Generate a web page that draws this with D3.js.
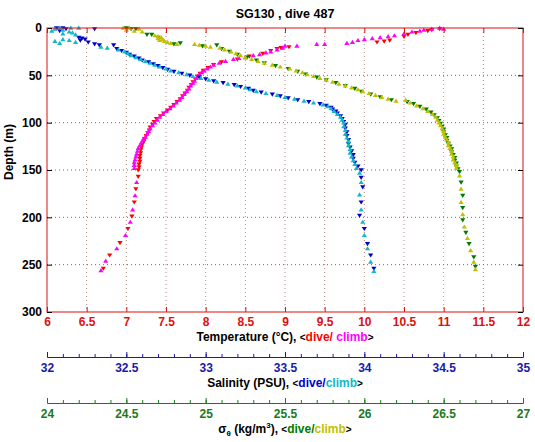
<!DOCTYPE html>
<html>
<head>
<meta charset="utf-8">
<script src="https://cdn.jsdelivr.net/npm/d3@7"></script>
<style>
  html, body { margin: 0; padding: 0; background: #fff; }
  svg text { font-family: "Liberation Sans", Arial, Helvetica, sans-serif; font-weight: bold; }
</style>
</head>
<body>
<svg id="chart" width="535" height="442"></svg>
<script>
// ---------------- data: [depth (m), value] ----------------
const tempDive = [[1,10.95],[2,10.85],[3,10.8],[5,10.65],[7,10.55],[9,10.5],[13,10.32],[14,10.25],[15,10.16],[20,9.05],[21,8.95],[22,8.9],[24,8.82],[27,8.72],[30,8.55],[33,8.4],[36,8.2],[39,8.1],[42,8.03],[45,7.97],[48,7.93],[51,7.9],[54,7.87],[57,7.84],[60,7.82],[63,7.79],[66,7.77],[69,7.74],[72,7.71],[75,7.68],[78,7.64],[81,7.6],[84,7.56],[87,7.52],[90,7.47],[93,7.43],[96,7.38],[99,7.35],[102,7.33],[105,7.3],[108,7.29],[111,7.27],[114,7.25],[117,7.23],[120,7.22],[123,7.2],[126,7.19],[129,7.18],[132,7.18],[135,7.17],[138,7.17],[141,7.17],[144,7.16],[147,7.16],[150,7.15],[157,7.15],[170,7.12],[184,7.1],[199,7.07],[212,7.02],[227,6.92],[240,6.79],[254,6.71]];
const tempClimb = [[0,10.95],[1,11.0],[1,10.85],[2,10.75],[3,10.7],[4,10.6],[6,10.5],[8,10.38],[9,10.3],[10,10.2],[11,10.1],[12,10.0],[13,9.92],[15,9.85],[16,9.78],[17,9.5],[17,9.4],[19,9.15],[19,9.0],[21,8.97],[23,8.9],[25,8.82],[26,8.76],[28,8.68],[29,8.6],[31,8.5],[32,8.42],[33,8.35],[35,8.25],[37,8.17],[39,8.1],[41,8.06],[43,8.02],[45,7.98],[47,7.95],[49,7.92],[51,7.9],[53,7.88],[56,7.86],[58,7.84],[61,7.81],[64,7.79],[67,7.76],[70,7.73],[73,7.7],[76,7.67],[79,7.63],[82,7.59],[85,7.55],[88,7.5],[91,7.46],[94,7.42],[97,7.39],[100,7.36],[103,7.33],[106,7.3],[109,7.28],[112,7.26],[115,7.24],[118,7.21],[121,7.19],[124,7.17],[127,7.15],[130,7.14],[133,7.13],[136,7.12],[139,7.11],[142,7.1],[145,7.1],[148,7.1],[163,7.13],[177,7.11],[192,7.08],[205,7.05],[219,6.99],[233,6.88],[246,6.74],[256,6.68]];
const salDive = [[0,32.1],[0,32.06],[1,32.12],[1,32.3],[3,32.08],[10,32.2],[11,32.22],[12,32.24],[13,32.21],[15,32.26],[17,32.3],[18,32.33],[18,32.42],[22,32.44],[24,32.47],[26,32.5],[28,32.52],[30,32.55],[32,32.58],[34,32.6],[36,32.64],[38,32.67],[40,32.7],[42,32.73],[44,32.76],[46,32.8],[48,32.85],[50,32.9],[52,32.96],[54,33.0],[56,33.05],[58,33.11],[60,33.18],[62,33.22],[64,33.27],[66,33.3],[68,33.35],[70,33.42],[72,33.47],[74,33.52],[76,33.58],[78,33.65],[80,33.72],[82,33.76],[84,33.79],[86,33.8],[88,33.82],[90,33.83],[93,33.85],[96,33.86],[99,33.87],[102,33.88],[106,33.88],[110,33.89],[114,33.89],[118,33.9],[122,33.9],[126,33.91],[130,33.92],[134,33.93],[138,33.93],[142,33.94],[146,33.96],[150,33.98],[158,33.98],[168,33.99],[184,33.98],[198,33.97],[212,34.0],[228,34.02],[240,34.04],[254,34.06]];
const salClimb = [[0,32.08],[0,32.15],[0,32.2],[1,32.05],[2,32.1],[3,32.03],[4,32.14],[5,32.16],[6,32.1],[7,32.18],[12,32.1],[13,32.14],[14,32.05],[15,32.18],[16,32.08],[20,32.34],[21,32.38],[23,32.45],[25,32.49],[27,32.51],[29,32.53],[31,32.56],[33,32.59],[35,32.62],[37,32.65],[39,32.68],[41,32.71],[43,32.75],[45,32.78],[47,32.83],[49,32.88],[51,32.92],[53,32.97],[55,33.02],[57,33.07],[59,33.14],[61,33.2],[63,33.25],[65,33.28],[67,33.32],[69,33.38],[71,33.45],[73,33.5],[75,33.56],[77,33.62],[79,33.68],[81,33.74],[83,33.77],[85,33.79],[88,33.81],[91,33.83],[94,33.85],[97,33.86],[100,33.87],[104,33.87],[108,33.88],[112,33.88],[116,33.89],[120,33.9],[124,33.9],[128,33.91],[132,33.91],[136,33.92],[140,33.93],[144,33.94],[148,33.95],[153,33.97],[163,33.98],[176,33.97],[192,33.98],[205,33.99],[219,34.0],[233,34.02],[247,34.04],[257,34.06]];
const sigDive = [[0,24.5],[1,24.53],[1,24.56],[7,24.63],[7,24.66],[10,24.7],[16,24.84],[17,24.8],[18,25.07],[19,24.98],[22,25.1],[25,25.15],[28,25.2],[31,25.26],[34,25.32],[37,25.37],[40,25.44],[43,25.52],[46,25.58],[49,25.63],[52,25.7],[55,25.76],[58,25.82],[61,25.88],[64,25.94],[67,25.98],[70,26.04],[73,26.1],[76,26.17],[78,26.27],[80,26.31],[83,26.35],[86,26.39],[89,26.42],[92,26.44],[95,26.46],[98,26.47],[101,26.48],[104,26.49],[107,26.5],[110,26.5],[113,26.51],[116,26.52],[119,26.52],[122,26.53],[125,26.54],[128,26.55],[131,26.55],[134,26.56],[137,26.57],[140,26.57],[143,26.58],[146,26.58],[149,26.59],[152,26.6],[163,26.61],[177,26.62],[190,26.62],[203,26.62],[216,26.64],[228,26.66],[242,26.69],[252,26.7]];
const sigClimb = [[0,24.48],[0,24.52],[1,24.58],[2,24.5],[3,24.55],[4,24.6],[8,24.68],[9,24.7],[10,24.72],[11,24.7],[12,24.73],[13,24.71],[14,24.74],[15,24.76],[16,24.78],[17,24.82],[17,24.93],[18,24.96],[19,25.0],[20,25.03],[21,25.09],[23,25.12],[25,25.16],[27,25.19],[29,25.22],[31,25.25],[33,25.29],[35,25.33],[37,25.37],[39,25.42],[41,25.47],[43,25.53],[45,25.57],[47,25.61],[49,25.64],[51,25.68],[53,25.72],[55,25.76],[57,25.8],[59,25.84],[61,25.88],[63,25.92],[65,25.96],[67,25.99],[69,26.03],[71,26.07],[73,26.11],[75,26.15],[77,26.2],[76,26.26],[79,26.29],[82,26.33],[85,26.37],[88,26.4],[91,26.43],[94,26.45],[97,26.46],[100,26.47],[103,26.48],[106,26.49],[109,26.5],[112,26.5],[115,26.51],[118,26.52],[121,26.53],[124,26.53],[127,26.54],[130,26.55],[133,26.55],[136,26.56],[139,26.56],[142,26.57],[145,26.58],[148,26.58],[156,26.6],[170,26.61],[184,26.61],[197,26.62],[210,26.63],[222,26.65],[235,26.67],[247,26.69],[255,26.7]];

const depthTicks = [0, 50, 100, 150, 200, 250, 300];
const tempTicks = [6, 6.5, 7, 7.5, 8, 8.5, 9, 9.5, 10, 10.5, 11, 11.5, 12];
const salTicks = [32, 32.5, 33, 33.5, 34, 34.5, 35];
const sigTicks = [24, 24.5, 25, 25.5, 26, 26.5, 27];
const titleText = "SG130 , dive 487";

// ---------------- layout ----------------
const L = 47, R = 523, T = 28, B = 312;
const svg = d3.select("#chart");

const y = d3.scaleLinear().domain([0, 300]).range([T, B]);
const xT = d3.scaleLinear().domain([6, 12]).range([L, R]);
const xS = d3.scaleLinear().domain([32, 35]).range([L, R]);
const xD = d3.scaleLinear().domain([24, 27]).range([L, R]);

const C = {
  axT: "#dd1010", tDive: "#ff0000", tClimb: "#ff00ff",
  axS: "#1a1aa8", sDive: "#0000c8", sClimb: "#10b8c8",
  axD: "#1a7a1a", dDive: "#007a00", dClimb: "#c0c000"
};

// grid
const grid = svg.append("g");
grid.selectAll("line.v").data(tempTicks.slice(1, -1)).join("line")
  .attr("x1", d => xT(d)).attr("x2", d => xT(d)).attr("y1", T).attr("y2", B)
  .attr("stroke", "#b88a8a").attr("stroke-width", 1).attr("stroke-dasharray", "1,3");
grid.selectAll("line.h").data(depthTicks.slice(1, -1)).join("line")
  .attr("x1", L).attr("x2", R).attr("y1", d => y(d)).attr("y2", d => y(d))
  .attr("stroke", "#707070").attr("stroke-width", 1).attr("stroke-dasharray", "1,3");

// markers
const downTri = "M-2.6,-1.8L2.6,-1.8L0,2.4Z";
const upTri = "M-2.6,1.8L2.6,1.8L0,-2.4Z";
function plot(data, xs, color, path) {
  svg.append("g").selectAll("path").data(data).join("path")
    .attr("d", path)
    .attr("transform", d => `translate(${xs(d[1])},${y(d[0])})`)
    .attr("fill", color).attr("stroke", "none");
}
plot(tempDive, xT, C.tDive, downTri);
plot(tempClimb, xT, C.tClimb, upTri);
plot(salDive, xS, C.sDive, downTri);
plot(salClimb, xS, C.sClimb, upTri);
plot(sigDive, xD, C.dDive, downTri);
plot(sigClimb, xD, C.dClimb, upTri);

// box
svg.append("rect").attr("x", L).attr("y", T).attr("width", R - L).attr("height", B - T)
  .attr("fill", "none").attr("stroke", C.axT).attr("stroke-width", 1);

// y axes (ticks inside)
const yl = svg.append("g").attr("transform", `translate(${L},0)`)
  .call(d3.axisLeft(y).tickValues(depthTicks).tickSizeInner(-5).tickSizeOuter(0).tickPadding(5));
yl.select(".domain").remove();
yl.selectAll("line").attr("stroke", "#000");
yl.selectAll("text").attr("font-size", 12).attr("fill", "#000").attr("x", -5);
const yr = svg.append("g").attr("transform", `translate(${R},0)`)
  .call(d3.axisRight(y).tickValues(depthTicks).tickSizeInner(-5).tickSizeOuter(0).tickFormat(""));
yr.select(".domain").remove();
yr.selectAll("line").attr("stroke", "#000");

// temperature axis bottom (ticks inside) and top ticks
const xb = svg.append("g").attr("transform", `translate(0,${B})`)
  .call(d3.axisBottom(xT).tickValues(tempTicks).tickSizeInner(-5).tickSizeOuter(0).tickPadding(5).tickFormat(d3.format("")));
xb.select(".domain").remove();
xb.selectAll("line").attr("stroke", C.axT);
xb.selectAll("text").attr("font-size", 12).attr("fill", C.axT);
const xt = svg.append("g").attr("transform", `translate(0,${T})`)
  .call(d3.axisTop(xT).tickValues(tempTicks).tickSizeInner(-5).tickSizeOuter(0).tickFormat(""));
xt.select(".domain").remove();
xt.selectAll("line").attr("stroke", C.axT);

// extra axes (salinity, density)
function extraAxis(scale, ticks, yPos, color) {
  const lo = scale.domain()[0], hi = scale.domain()[1];
  const minor = d3.range(Math.round((hi - lo) / 0.1) + 1).map(i => lo + i * 0.1);
  const gm = svg.append("g").attr("transform", `translate(0,${yPos})`)
    .call(d3.axisBottom(scale).tickValues(minor).tickSizeInner(-3).tickSizeOuter(-5).tickFormat(""));
  gm.select(".domain").attr("stroke", color);
  gm.selectAll("line").attr("stroke", color);
  const g = svg.append("g").attr("transform", `translate(0,${yPos})`)
    .call(d3.axisBottom(scale).tickValues(ticks).tickSizeInner(-5).tickSizeOuter(0).tickPadding(6).tickFormat(d3.format("")));
  g.select(".domain").remove();
  g.selectAll("line").attr("stroke", color);
  g.selectAll("text").attr("font-size", 12).attr("fill", color);
}
extraAxis(xS, salTicks, 357, C.axS);
extraAxis(xD, sigTicks, 403, C.axD);

// titles
const cx = (L + R) / 2;
svg.append("text").attr("x", cx).attr("y", 18).attr("text-anchor", "middle")
  .attr("font-size", 12.5).attr("fill", "#000").text(titleText);

svg.append("text").attr("transform", "translate(13,152) rotate(-90)").attr("text-anchor", "middle")
  .attr("font-size", 12).attr("fill", "#000").text("Depth (m)");

function axisTitle(yPos, parts) {
  const t = svg.append("text").attr("x", cx).attr("y", yPos).attr("text-anchor", "middle")
    .attr("font-size", 12).attr("fill", "#000");
  parts.forEach(p => {
    const ts = t.append("tspan").text(p.t).attr("fill", p.c || "#000");
    if (p.dy) ts.attr("dy", p.dy);
    if (p.fs) ts.attr("font-size", p.fs);
  });
}
axisTitle(341, [{t: "Temperature (°C), "}, {t: "<", fs: 10}, {t: "dive/ ", c: C.tDive}, {t: "climb", c: C.tClimb}, {t: ">", fs: 10}]);
axisTitle(387, [{t: "Salinity (PSU), "}, {t: "<", fs: 10}, {t: "dive/", c: C.sDive}, {t: "climb", c: C.sClimb}, {t: ">", fs: 10}]);
axisTitle(433, [{t: "σ"}, {t: "θ", fs: 8, dy: 3}, {t: " (kg/m", dy: -3}, {t: "3", fs: 8, dy: -5}, {t: "), ", dy: 5}, {t: "<", fs: 10}, {t: "dive/", c: C.dDive}, {t: "climb", c: C.dClimb}, {t: ">", fs: 10}]);
</script>
</body>
</html>
